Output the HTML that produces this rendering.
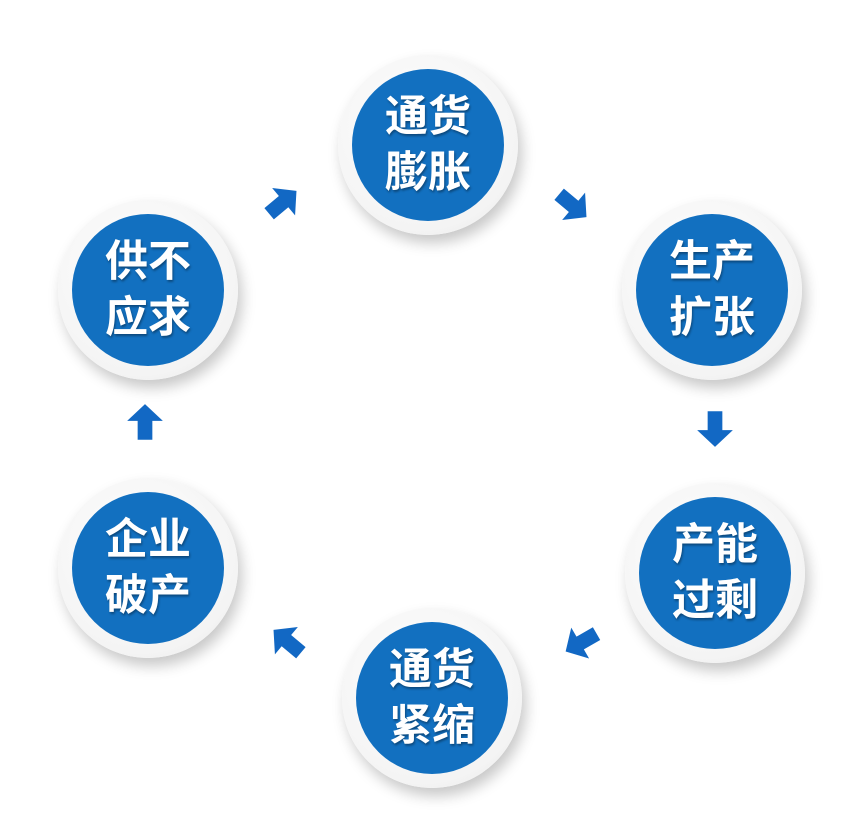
<!DOCTYPE html>
<html><head><meta charset="utf-8"><style>
body{margin:0;width:859px;height:836px;background:#fff;position:relative;overflow:hidden}
.c{position:absolute;width:180px;height:180px;border-radius:50%;background:radial-gradient(circle at 45% 40%,#fff 0%,#f4f4f4 70%,#e6e6e6 100%);box-shadow:4px 8px 14px rgba(0,0,0,.22)}
.c div{position:absolute;left:14px;top:14px;width:152px;height:152px;border-radius:50%;background:#1270c0;color:#fff;font:bold 43px/56px "Liberation Sans","Noto Sans CJK SC",sans-serif;text-align:center;display:flex;align-items:center;justify-content:center;text-shadow:1px 2px 2px rgba(0,0,0,.35)}
svg.a{position:absolute;width:42px;height:42px}
</style></head><body>
<div class="c" style="left:338px;top:55px"><div>通货<br>膨胀</div></div>
<div class="c" style="left:622px;top:200px"><div>生产<br>扩张</div></div>
<div class="c" style="left:625px;top:483px"><div>产能<br>过剩</div></div>
<div class="c" style="left:342px;top:608px"><div>通货<br>紧缩</div></div>
<div class="c" style="left:58px;top:478px"><div>企业<br>破产</div></div>
<div class="c" style="left:58px;top:200px"><div>供不<br>应求</div></div>
<svg class="a" style="left:261px;top:182px;transform:rotate(-40deg)" viewBox="0 0 40 40"><polygon points="4,13 22,13 22,3 38,20 22,37 22,27 4,27" fill="#1268c4"/></svg>
<svg class="a" style="left:551px;top:184px;transform:rotate(40deg)" viewBox="0 0 40 40"><polygon points="4,13 22,13 22,3 38,20 22,37 22,27 4,27" fill="#1268c4"/></svg>
<svg class="a" style="left:694px;top:407px;transform:rotate(90deg)" viewBox="0 0 40 40"><polygon points="4,13 22,13 22,3 38,20 22,37 22,27 4,27" fill="#1268c4"/></svg>
<svg class="a" style="left:561px;top:621px;transform:rotate(150deg)" viewBox="0 0 40 40"><polygon points="4,13 22,13 22,3 38,20 22,37 22,27 4,27" fill="#1268c4"/></svg>
<svg class="a" style="left:267px;top:621px;transform:rotate(-140deg)" viewBox="0 0 40 40"><polygon points="4,13 22,13 22,3 38,20 22,37 22,27 4,27" fill="#1268c4"/></svg>
<svg class="a" style="left:124px;top:402px;transform:rotate(-90deg)" viewBox="0 0 40 40"><polygon points="4,13 22,13 22,3 38,20 22,37 22,27 4,27" fill="#1268c4"/></svg>
</body></html>
